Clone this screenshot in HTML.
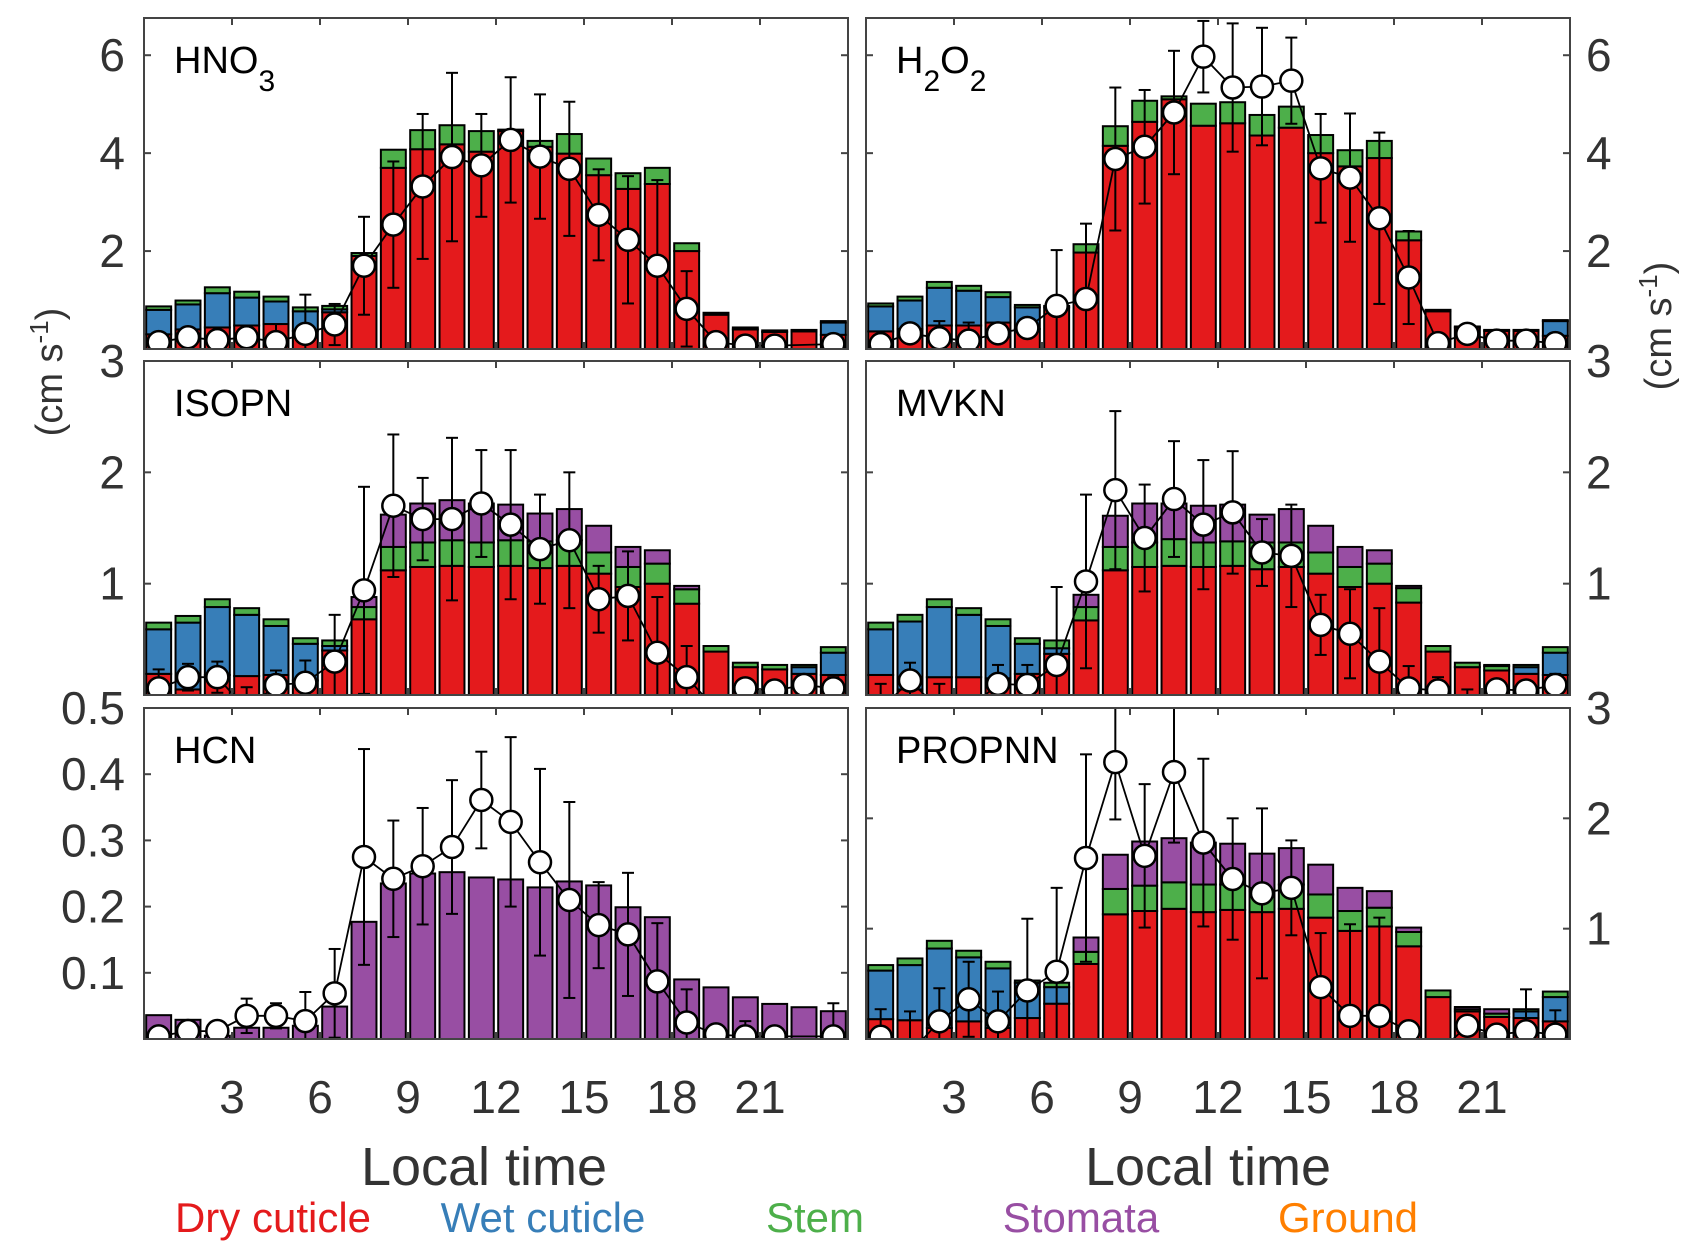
<!DOCTYPE html>
<html><head><meta charset="utf-8">
<style>
html,body{margin:0;padding:0;background:#fff;}
svg{display:block;font-family:"Liberation Sans",Arial,sans-serif;}
.nar{font-family:"Liberation Sans Narrow","Liberation Sans",Arial,sans-serif;}
</style></head>
<body>
<svg id="chart" width="1704" height="1252" viewBox="0 0 1704 1252" xmlns="http://www.w3.org/2000/svg"></svg>
<script>
// ---- data (24 hourly bins, hours 0.5 .. 23.5) ----
const hours = [0.5,1.5,2.5,3.5,4.5,5.5,6.5,7.5,8.5,9.5,10.5,11.5,12.5,13.5,14.5,15.5,16.5,17.5,18.5,19.5,20.5,21.5,22.5,23.5];
const xTicks = [3,6,9,12,15,18,21];

const hno3Dry = [0.3,0.4,0.44,0.48,0.51,0.37,0.75,1.9,3.7,4.08,4.18,4.03,4.45,4.13,3.99,3.55,3.27,3.37,2.0,0.7,0.4,0.35,0.36,0.29];
const hno3Wet = [0.5,0.51,0.7,0.57,0.46,0.4,0.06,0,0,0,0,0,0,0,0,0,0,0,0,0,0,0,0,0.25];
const hno3Stem = [0.07,0.08,0.12,0.12,0.1,0.08,0.07,0.06,0.37,0.39,0.39,0.42,0.03,0.12,0.4,0.34,0.32,0.33,0.16,0.04,0.04,0.03,0.03,0.03];
const hno3Stoma = [0,0,0,0,0,0,0,0,0,0,0,0,0,0,0,0,0,0,0,0,0,0,0,0];
const hno3Mean = [0.14,0.24,0.18,0.24,0.14,0.31,0.5,1.7,2.54,3.32,3.92,3.75,4.27,3.93,3.68,2.74,2.23,1.7,0.82,0.14,0.07,0.07,null,0.1];
const hno3Sd = [0,0,0,0,0.37,0.8,0.42,1.0,1.29,1.48,1.72,1.05,1.28,1.27,1.37,0.93,1.3,1.75,0.77,0,0,0,0,0];

const h2o2Dry = [0.36,0.41,0.48,0.48,0.54,0.41,0.85,1.97,4.15,4.64,5.1,4.56,4.61,4.36,4.52,4.0,3.73,3.9,2.22,0.77,0.44,0.37,0.37,0.27];
const h2o2Wet = [0.51,0.58,0.77,0.71,0.52,0.44,0,0,0,0,0,0,0,0,0,0,0,0,0,0,0,0,0,0.3];
const h2o2Stem = [0.06,0.08,0.12,0.1,0.1,0.05,0.03,0.17,0.4,0.43,0.06,0.45,0.43,0.42,0.43,0.37,0.33,0.35,0.18,0.03,0.02,0.02,0.02,0.02];
const h2o2Stoma = [0,0,0,0,0,0,0,0,0,0,0,0,0,0,0,0,0,0,0,0,0,0,0,0];
const h2o2Mean = [0.1,0.32,0.22,0.17,0.32,0.43,0.88,1.02,3.88,4.13,4.83,5.97,5.34,5.36,5.48,3.69,3.5,2.67,1.46,0.12,0.31,0.17,0.17,0.12];
const h2o2Sd = [0,0,0.35,0.37,0,0,1.14,1.54,1.46,1.16,1.26,0.73,1.31,1.2,0.88,1.11,1.31,1.75,0.95,0,0,0.1,0,0.2];

const isopnDry = [0.19,0.05,0.18,0.17,0.18,0.13,0.4,0.68,1.12,1.15,1.16,1.15,1.16,1.14,1.16,1.09,0.97,1.0,0.82,0.39,0.25,0.23,0.19,0.18];
const isopnWet = [0.4,0.6,0.61,0.55,0.44,0.33,0.04,0,0,0,0,0,0,0,0,0,0,0,0,0,0,0,0.06,0.2];
const isopnStem = [0.06,0.06,0.07,0.06,0.06,0.05,0.05,0.11,0.21,0.22,0.23,0.22,0.23,0.24,0.23,0.19,0.18,0.18,0.13,0.05,0.04,0.04,0.02,0.05];
const isopnStoma = [0,0,0,0,0,0,0,0.09,0.29,0.35,0.36,0.35,0.32,0.25,0.28,0.24,0.18,0.12,0.03,0,0,0,0,0];
const isopnMean = [0.06,0.16,0.16,-0.13,0.09,0.11,0.3,0.94,1.7,1.58,1.58,1.72,1.53,1.31,1.39,0.86,0.89,0.38,0.16,-0.13,0.06,0.04,0.09,0.06];
const isopnSd = [0.17,0.12,0.14,0.2,0.13,0.2,0.42,0.93,0.64,0.37,0.73,0.48,0.67,0.49,0.61,0.3,0.4,0.5,0.28,0.13,0.05,0.04,0,0.1];

const mvknDry = [0.18,0.05,0.16,0.16,0.15,0.19,0.37,0.67,1.12,1.15,1.16,1.15,1.16,1.13,1.15,1.09,0.97,1.0,0.83,0.39,0.25,0.22,0.19,0.18];
const mvknWet = [0.41,0.61,0.63,0.56,0.47,0.27,0.05,0,0,0,0,0,0,0,0,0,0,0,0,0,0,0,0.06,0.2];
const mvknStem = [0.06,0.06,0.07,0.06,0.06,0.05,0.07,0.12,0.21,0.22,0.24,0.22,0.22,0.24,0.22,0.19,0.18,0.18,0.13,0.05,0.04,0.04,0.02,0.05];
const mvknStoma = [0,0,0,0,0,0,0,0.11,0.28,0.35,0.32,0.33,0.33,0.25,0.3,0.24,0.18,0.12,0.02,0,0,0.01,0,0];
const mvknMean = [-0.13,0.13,-0.13,-0.13,0.1,0.09,0.27,1.02,1.84,1.41,1.76,1.53,1.64,1.28,1.25,0.63,0.55,0.3,0.06,0.04,-0.13,0.05,0.04,0.09];
const mvknSd = [0.23,0.16,0.23,0,0.17,0.18,0.7,0.78,0.71,0.48,0.52,0.58,0.55,0.3,0.46,0.27,0.4,0.48,0.2,0.12,0.18,0.05,0.05,0.1];

const hcnDry = [0,0,0,0,0,0,0,0,0,0,0,0,0,0,0,0,0,0,0,0,0,0,0,0];
const hcnWet = [0,0,0,0,0,0,0,0,0,0,0,0,0,0,0,0,0,0,0,0,0,0,0,0];
const hcnStem = [0,0,0,0,0,0,0,0,0,0,0,0,0,0,0,0,0,0,0,0,0,0,0,0];
const hcnStoma = [0.036,0.029,0.005,0.017,0.017,0.02,0.049,0.177,0.235,0.25,0.252,0.244,0.241,0.229,0.238,0.232,0.199,0.184,0.09,0.078,0.063,0.053,0.048,0.042];
const hcnMean = [0.004,0.012,0.012,0.035,0.035,0.027,0.069,0.275,0.242,0.261,0.29,0.361,0.328,0.267,0.21,0.172,0.158,0.087,0.025,0.007,0.004,0.004,null,0.004];
const hcnSd = [0,0,0,0.026,0.019,0.044,0.067,0.163,0.088,0.088,0.101,0.073,0.128,0.141,0.148,0.065,0.093,0.088,0.05,0,0.023,0,0,0.05];

const propnnDry = [0.18,0.17,0.1,0.16,0.1,0.19,0.32,0.68,1.13,1.16,1.18,1.15,1.17,1.15,1.18,1.1,0.98,1.02,0.84,0.38,0.25,0.2,0.19,0.16];
const propnnWet = [0.44,0.5,0.72,0.58,0.54,0.32,0.15,0,0,0,0,0,0,0,0,0,0,0,0,0,0,0,0.06,0.22];
const propnnStem = [0.05,0.06,0.07,0.06,0.06,0.02,0.04,0.11,0.23,0.23,0.24,0.25,0.23,0.19,0.22,0.21,0.18,0.17,0.13,0.06,0.02,0.03,0.02,0.05];
const propnnStoma = [0,0,0,0,0,0,0,0.13,0.31,0.4,0.4,0.38,0.37,0.34,0.33,0.27,0.21,0.15,0.04,0,0.02,0.04,0,0];
const propnnMean = [0.02,-0.13,0.16,0.36,0.16,0.44,0.61,1.64,2.51,1.66,2.42,1.78,1.45,1.32,1.37,0.47,0.21,0.21,0.07,-0.13,0.12,0.04,0.07,0.04];
const propnnSd = [0.25,0.38,0.3,0.34,0.27,0.65,0.76,0.94,0.52,0.65,0.64,0.76,0.55,0.77,0.43,0.49,0.83,0.89,0,0,0.05,0,0.38,0.22];

const yTicksRow1 = [2,4,6];
const yTicksRow2 = [1,2,3];
const yTicksHcn = [0.1,0.2,0.3,0.4,0.5];
const yTicksPropnn = [1,2,3];

const COLORS = {dry:'#e41a1c', wet:'#377eb8', stem:'#4daf4a', stoma:'#984ea3'};
const NS = 'http://www.w3.org/2000/svg';
const svg = document.getElementById('chart');
function mk(tag, attrs, parent){
  const e = document.createElementNS(NS, tag);
  for (const k in attrs) e.setAttribute(k, attrs[k]);
  (parent||svg).appendChild(e);
  return e;
}

const panels = [
  {id:'hno3', x0:144, x1:848, y0:18, y1:349, ymax:6.76, ticks:yTicksRow1, side:'left', label:['HNO','3'], dry:hno3Dry, wet:hno3Wet, stem:hno3Stem, stoma:hno3Stoma, mean:hno3Mean, sd:hno3Sd},
  {id:'h2o2', x0:866, x1:1570, y0:18, y1:349, ymax:6.76, ticks:yTicksRow1, side:'right', label:['H','2','O','2'], dry:h2o2Dry, wet:h2o2Wet, stem:h2o2Stem, stoma:h2o2Stoma, mean:h2o2Mean, sd:h2o2Sd},
  {id:'isopn', x0:144, x1:848, y0:361, y1:695, ymax:3, ticks:yTicksRow2, side:'left', label:['ISOPN'], dry:isopnDry, wet:isopnWet, stem:isopnStem, stoma:isopnStoma, mean:isopnMean, sd:isopnSd},
  {id:'mvkn', x0:866, x1:1570, y0:361, y1:695, ymax:3, ticks:yTicksRow2, side:'right', label:['MVKN'], dry:mvknDry, wet:mvknWet, stem:mvknStem, stoma:mvknStoma, mean:mvknMean, sd:mvknSd},
  {id:'hcn', x0:144, x1:848, y0:708, y1:1039, ymax:0.5, ticks:yTicksHcn, side:'left', label:['HCN'], dry:hcnDry, wet:hcnWet, stem:hcnStem, stoma:hcnStoma, mean:hcnMean, sd:hcnSd},
  {id:'propnn', x0:866, x1:1570, y0:708, y1:1039, ymax:3, ticks:yTicksPropnn, side:'right', label:['PROPNN'], dry:propnnDry, wet:propnnWet, stem:propnnStem, stoma:propnnStoma, mean:propnnMean, sd:propnnSd}
];

panels.forEach(p => {
  const xs = h => p.x0 + (h/24)*(p.x1-p.x0);
  const ys = v => p.y1 - (v/p.ymax)*(p.y1-p.y0);
  const g = mk('g', {});
  
  
  const cp = mk('clipPath', {id:'clip-'+p.id}, g);
  mk('rect', {x:p.x0, y:p.y0, width:p.x1-p.x0, height:p.y1-p.y0}, cp);
  const plot = mk('g', {'clip-path':'url(#clip-'+p.id+')'}, g);
  const bw = (p.x1-p.x0)/24*0.85;
  hours.forEach((h,i) => {
    let base = 0;
    [['dry',p.dry],['wet',p.wet],['stem',p.stem],['stoma',p.stoma]].forEach(([k,arr]) => {
      const v = arr[i];
      if (!v || v <= 0) return;
      const r = mk('rect', {x:xs(h)-bw/2, y:ys(base+v), width:bw, height:ys(base)-ys(base+v), fill:COLORS[k], stroke:'#000', 'stroke-width':2}, plot);
      
      
      base += v;
    });
  });
  hours.forEach((h,i) => {
    const m = p.mean[i], s = p.sd[i];
    if (m === null || !s) return;
    const cx = xs(h);
    const eb = mk('g', {stroke:'#000', 'stroke-width':2}, plot);
    
    
    mk('line', {x1:cx, x2:cx, y1:ys(m-s), y2:ys(m+s)}, eb);
    mk('line', {x1:cx-6, x2:cx+6, y1:ys(m-s), y2:ys(m-s)}, eb);
    mk('line', {x1:cx-6, x2:cx+6, y1:ys(m+s), y2:ys(m+s)}, eb);
  });
  let d = '';
  hours.forEach((h,i) => { const m = p.mean[i]; if (m === null) return; d += (d?'L':'M') + xs(h).toFixed(1) + ',' + ys(m).toFixed(1); });
  const ln = mk('path', {d:d, fill:'none', stroke:'#000', 'stroke-width':1.8}, plot);
  
  
  hours.forEach((h,i) => {
    const m = p.mean[i]; if (m === null) return;
    const c = mk('circle', {cx:xs(h), cy:ys(m), r:11, fill:'#fff', stroke:'#000', 'stroke-width':2.5}, plot);
    
    
  });
  const fr = mk('rect', {x:p.x0, y:p.y0, width:p.x1-p.x0, height:p.y1-p.y0, fill:'none', stroke:'#444', 'stroke-width':2}, g);
  
  
  xTicks.forEach(t => {
    const x = xs(t);
    mk('line', {x1:x, x2:x, y1:p.y1, y2:p.y1-7, stroke:'#444', 'stroke-width':2}, g);
    mk('line', {x1:x, x2:x, y1:p.y0, y2:p.y0+7, stroke:'#444', 'stroke-width':2}, g);
  });
  p.ticks.forEach(t => {
    const y = ys(t);
    if (t < p.ymax) {
      mk('line', {x1:p.x0, x2:p.x0+7, y1:y, y2:y, stroke:'#444', 'stroke-width':2}, g);
      mk('line', {x1:p.x1, x2:p.x1-7, y1:y, y2:y, stroke:'#444', 'stroke-width':2}, g);
    }
    const tx = mk('text', {class:'nar', x: p.side==='left' ? 125 : 1586, y: y+16, 'font-size':46, fill:'#333', 'text-anchor': p.side==='left'?'end':'start'}, g);
    
    
    tx.textContent = String(t);
  });
  const lab = mk('text', {x:p.x0+30, y:p.y0+55, 'font-size':38, fill:'#000'}, g);
  
  
  p.label.forEach((s, k) => {
    const sub = (p.label.length > 1 && k % 2 === 1);
    const ts = mk('tspan', sub ? {dy:18, 'font-size':30} : (k>0 ? {dy:-18} : {}), lab);
    ts.textContent = s;
  });
  if (p.y1 > 1000) {
    xTicks.forEach(t => {
      const tx = mk('text', {class:'nar', x:xs(t), y:1113, 'font-size':46, fill:'#333', 'text-anchor':'middle'}, g);
      
      
      tx.textContent = String(t);
    });
  }
});
</script>
<script>
(function(){
  const svg = document.getElementById('chart');
  const NS = 'http://www.w3.org/2000/svg';
  function t(attrs, txt, name){
    const e = document.createElementNS(NS, 'text');
    for (const k in attrs) e.setAttribute(k, attrs[k]);
    
    
    e.innerHTML = txt;
    svg.appendChild(e);
  }
  t({class:'nar', x:484, y:1185, 'font-size':54, fill:'#333', 'text-anchor':'middle'}, 'Local time', 'x-axis-title-left');
  t({class:'nar', x:1208, y:1185, 'font-size':54, fill:'#333', 'text-anchor':'middle'}, 'Local time', 'x-axis-title-right');
  t({x:0, y:0, 'font-size':38, fill:'#333', 'text-anchor':'middle', transform:'translate(62,372) rotate(-90)'}, '(cm s<tspan dy="-14" font-size="26">-1</tspan><tspan dy="14">)</tspan>', 'y-axis-title-left');
  t({x:0, y:0, 'font-size':38, fill:'#333', 'text-anchor':'middle', transform:'translate(1671,326) rotate(-90)'}, '(cm s<tspan dy="-14" font-size="26">-1</tspan><tspan dy="14">)</tspan>', 'y-axis-title-right');
  const leg = [['Dry cuticle','#e41a1c',273],['Wet cuticle','#377eb8',543],['Stem','#4daf4a',815],['Stomata','#984ea3',1081],['Ground','#ff7f00',1348]];
  leg.forEach(([s,c,x]) => t({class:'nar', x:x, y:1232, 'font-size':42, fill:c, 'text-anchor':'middle'}, s, 'legend-entry-' + s.toLowerCase().replace(' ','-')));
})();
</script>
</body></html>
